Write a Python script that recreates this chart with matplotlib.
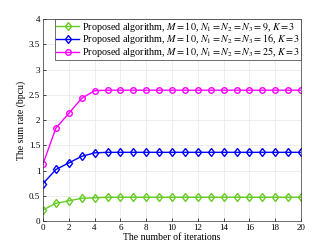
import numpy as np
import matplotlib
matplotlib.use('Agg')
import matplotlib.pyplot as plt

plt.rcParams['font.family'] = 'Liberation Serif'
plt.rcParams['mathtext.fontset'] = 'stix'

iterations = np.arange(0, 21)
rate_n9 = [0.22, 0.35, 0.40, 0.45, 0.46] + [0.47] * 16
rate_n16 = [0.74, 1.02, 1.15, 1.28, 1.35] + [1.36] * 16
rate_n25 = [1.13, 1.84, 2.13, 2.43, 2.58] + [2.59] * 16

labels = [r'Proposed algorithm, $M=10$, $N_1=N_2=N_3=9$, $K=3$',
          r'Proposed algorithm, $M=10$, $N_1=N_2=N_3=16$, $K=3$',
          r'Proposed algorithm, $M=10$, $N_1=N_2=N_3=25$, $K=3$']

fig = plt.figure(figsize=(3.32, 2.49), dpi=100)
ax = fig.add_axes([43/332, 1 - 221/249, (301-43)/332, (221-19)/249])

ax.plot(iterations, rate_n9, color='#66cc22', marker='d', markersize=4.5,
        markerfacecolor='none', markeredgewidth=1.0, linewidth=1.0, label=labels[0])
ax.plot(iterations, rate_n16, color='#0000ff', marker='d', markersize=4.5,
        markerfacecolor='none', markeredgewidth=1.0, linewidth=1.0, label=labels[1])
ax.plot(iterations, rate_n25, color='#ff00ff', marker='o', markersize=4,
        markerfacecolor='none', markeredgewidth=1.0, linewidth=1.0, label=labels[2])

ax.set_xlim(0, 20)
ax.set_ylim(0, 4)
ax.set_xticks(np.arange(0, 21, 2))
ax.set_yticks([0, 0.5, 1, 1.5, 2, 2.5, 3, 3.5, 4])
ax.set_yticklabels(['0', '0.5', '1', '1.5', '2', '2.5', '3', '3.5', '4'])
ax.tick_params(labelsize=6.5, direction='in', length=2, width=0.5, pad=2)
ax.grid(True, color='#e6e6e6', linewidth=0.5)
for s in ax.spines.values():
    s.set_linewidth(0.5)
    s.set_color('#333333')
ax.set_xlabel('The number of iterations', fontsize=7, labelpad=1)
ax.set_ylabel('The sum rate (bpcu)', fontsize=7, labelpad=2)

leg = ax.legend(loc='upper right', fontsize=7.3, fancybox=False, framealpha=1,
                edgecolor='#333333', borderpad=0.05, labelspacing=-0.1,
                handlelength=2.3, handletextpad=0.3, borderaxespad=0)
leg.get_frame().set_linewidth(0.5)

fig.savefig('out.png', dpi=100)
